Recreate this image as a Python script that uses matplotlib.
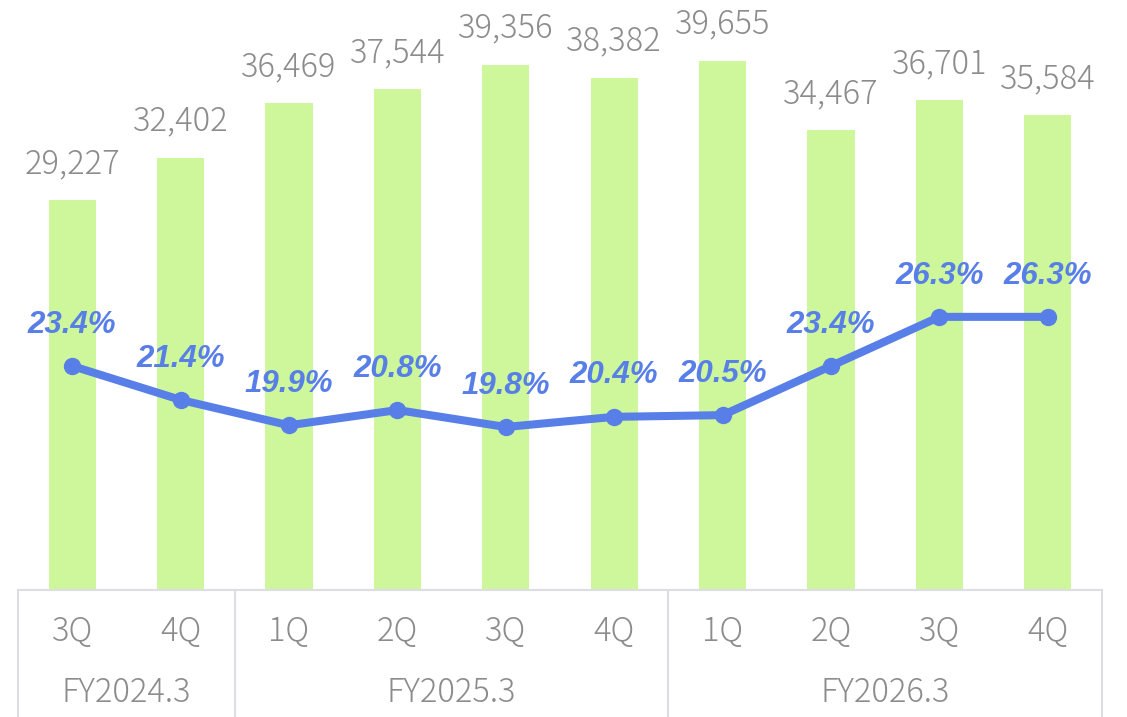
#Quarterly bars with margin line, category table underneath
import numpy as np
import matplotlib.pyplot as plt

#Data
quarters = ["3Q", "4Q", "1Q", "2Q", "3Q", "4Q", "1Q", "2Q", "3Q", "4Q"]
groups = ["FY2024.3", "FY2025.3", "FY2026.3"]
group_sizes = [2, 4, 4]
sales = [29227, 32402, 36469, 37544, 39356, 38382, 39655, 34467, 36701, 35584]
margin = [23.4, 21.4, 19.9, 20.8, 19.8, 20.4, 20.5, 23.4, 26.3, 26.3]

#Colours
bar_col = "#CDF79A"
line_col = "#587FE8"
gray = "#8C8C8C"
grid_col = "#DCDEE4"

W, H = 1127, 717
fig = plt.figure(figsize=(W/100, H/100), dpi=100)

left = 18/W
width = (1102 - 18)/W
base = (H - 590)/H

ax = fig.add_axes([left, base, width, 1 - base])
x = np.arange(len(sales))
ax.bar(x, sales, width=0.435, color=bar_col, zorder=1)
ax.set_xlim(-0.5, len(sales) - 0.5)
ax.set_ylim(0, 44220)
ax.axis("off")

for xi, v in zip(x, sales):
    ax.annotate(f"{v:,}", (xi, v), xytext=(0, 19.5), textcoords="offset points",
                ha="center", va="baseline", fontsize=23.5, color=gray,
                fontweight="light", family=["Noto Sans CJK JP", "DejaVu Sans"])

#Margin line on its own scale
ax2 = ax.twinx()
ax2.set_ylim(10.18, 45.0)
ax2.plot(x, margin, color=line_col, lw=5.8, marker="o", ms=11.5, zorder=3)
ax2.axis("off")
for xi, m in zip(x, margin):
    ax2.annotate(f"{m:.1f}%", (xi, m), xytext=(0, 24), textcoords="offset points",
                 ha="center", va="baseline", fontsize=22.5, color=line_col,
                 fontweight="bold", fontstyle="italic",
                 family=["Liberation Sans", "DejaVu Sans"])

#Category table below the bars
axb = fig.add_axes([left, 0, width, base])
axb.set_xlim(-0.5, len(sales) - 0.5)
axb.set_ylim(0, 1)
for s in ["left", "right", "bottom"]:
    axb.spines[s].set_visible(False)
axb.spines["top"].set_color(grid_col)
axb.spines["top"].set_linewidth(1.5)
axb.set_xticks([])
axb.set_yticks([])

edges = np.concatenate([[0], np.cumsum(group_sizes)]) - 0.5
for e in edges:
    axb.axvline(e, color=grid_col, lw=1.5, clip_on=False)

for xi, q in zip(x, quarters):
    axb.text(xi, 0.67, q, ha="center", va="center", fontsize=23.5, color=gray,
             fontweight="light", family=["Noto Sans CJK JP", "DejaVu Sans"])
for i, g in enumerate(groups):
    mid = (edges[i] + edges[i+1])/2
    axb.text(mid, 0.19, g, ha="center", va="center", fontsize=23.5, color=gray,
             fontweight="light", family=["Noto Sans CJK JP", "DejaVu Sans"])

fig.savefig("out.png", dpi=100)
